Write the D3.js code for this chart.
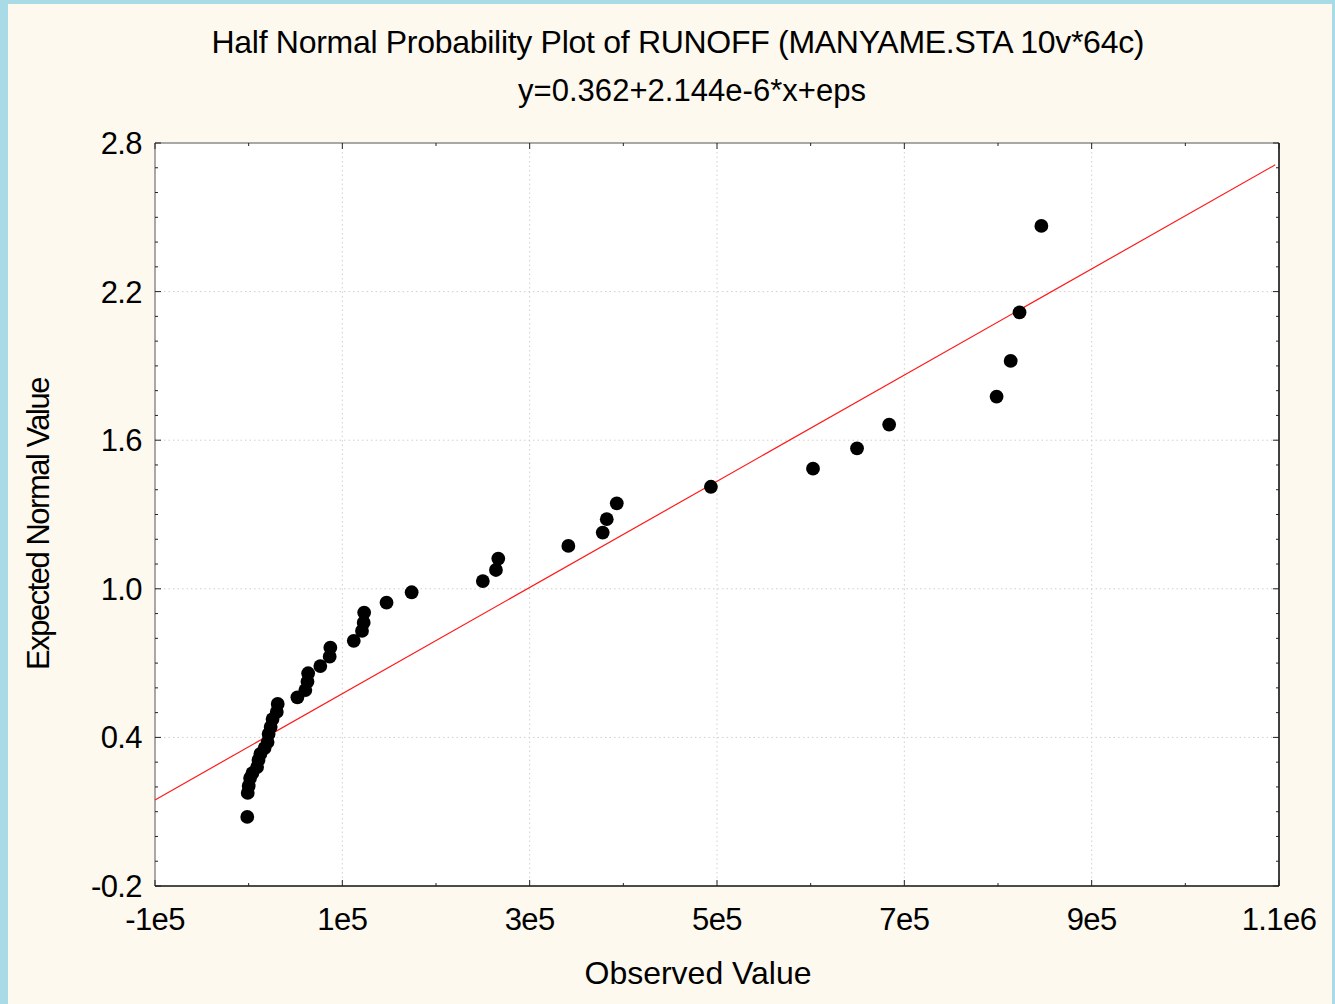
<!DOCTYPE html>
<html>
<head>
<meta charset="utf-8">
<script src="https://cdn.jsdelivr.net/npm/d3@7"></script>
<style>
  body { margin: 0; background: #a9dbe6; }
  svg { display: block; }
  text { font-family: "Liberation Sans", Arial, sans-serif; fill: #000; }
</style>
</head>
<body>
<svg id="chart" width="1335" height="1004"></svg>
<script>
// observed runoff values and their expected half-normal values
const observed = [
  -1500, -1000, 0, 1500, 4000, 9000, 10500, 12500, 17000, 20200, 21300, 23500, 25500, 30000, 31000,
  52000, 60500, 62800, 63500, 76500, 86500, 87200, 112200, 121000, 122800, 123300, 147200, 174000,
  250000, 264000, 266500, 341300, 378000, 382300, 393000, 493500,
  602500, 649500, 683800, 798500, 813500, 823000, 846300
];
const expected = [
  0.079, 0.176, 0.204, 0.236, 0.256, 0.280, 0.309, 0.333, 0.357, 0.381, 0.414, 0.442, 0.474, 0.503, 0.535,
  0.562, 0.591, 0.625, 0.659, 0.688, 0.726, 0.762, 0.790, 0.830, 0.863, 0.904, 0.944, 0.986,
  1.031, 1.076, 1.122, 1.173, 1.227, 1.281, 1.345, 1.412,
  1.485, 1.567, 1.663, 1.776, 1.920, 2.116, 2.465
];

const intercept = 0.362;
const slope = 2.144e-6;
const fitRange = [-100000, 1096000];

const xTicks = [-100000, 100000, 300000, 500000, 700000, 900000, 1100000];
const xTickLabels = ["-1e5", "1e5", "3e5", "5e5", "7e5", "9e5", "1.1e6"];
const yTicks = [-0.2, 0.4, 1.0, 1.6, 2.2, 2.8];
const yTickLabels = ["-0.2", "0.4", "1.0", "1.6", "2.2", "2.8"];

const titleLines = [
  "Half Normal Probability Plot of RUNOFF (MANYAME.STA 10v*64c)",
  "y=0.362+2.144e-6*x+eps"
];

const svg = d3.select("#chart");
const W = 1335, H = 1004;
const m = { left: 155, right: 1279, top: 143, bottom: 886 };

// panel background (blue frame shows on the left and top)
svg.append("rect").attr("x", 8).attr("y", 4).attr("width", W - 11).attr("height", H - 4)
  .attr("fill", "#fdf9ef");

const x = d3.scaleLinear().domain([-100000, 1100000]).range([m.left, m.right]);
const y = d3.scaleLinear().domain([-0.2, 2.8]).range([m.bottom, m.top]);

svg.append("rect")
  .attr("x", m.left).attr("y", m.top)
  .attr("width", m.right - m.left).attr("height", m.bottom - m.top)
  .attr("fill", "#fff");

// dotted grid at major ticks
const grid = svg.append("g").attr("stroke", "#cfcfcf").attr("stroke-dasharray", "1.5,3");
grid.selectAll("line.gx").data(xTicks.slice(1, -1)).enter().append("line")
  .attr("x1", d => x(d)).attr("x2", d => x(d)).attr("y1", m.top).attr("y2", m.bottom);
grid.selectAll("line.gy").data(yTicks.slice(1, -1)).enter().append("line")
  .attr("x1", m.left).attr("x2", m.right).attr("y1", d => y(d)).attr("y2", d => y(d));

// frame
svg.append("line").attr("x1", m.left).attr("x2", m.right).attr("y1", m.top).attr("y2", m.top)
  .attr("stroke", "#555").attr("stroke-width", 1);
svg.append("line").attr("x1", m.left).attr("x2", m.left).attr("y1", m.top).attr("y2", m.bottom)
  .attr("stroke", "#555").attr("stroke-width", 1);
svg.append("line").attr("x1", m.left).attr("x2", m.right).attr("y1", m.bottom).attr("y2", m.bottom)
  .attr("stroke", "#111").attr("stroke-width", 1.6);
svg.append("line").attr("x1", m.right).attr("x2", m.right).attr("y1", m.top).attr("y2", m.bottom)
  .attr("stroke", "#111").attr("stroke-width", 1.6);

// inward ticks: majors plus minors
const xMinor = d3.range(0, 1100000, 200000);
const yMinor = d3.range(-0.2, 2.8001, 0.1).filter(v => !yTicks.some(t => Math.abs(t - v) < 1e-6));
const tk = svg.append("g").attr("stroke", "#222").attr("stroke-width", 1);
[[xTicks, 6], [xMinor, 3]].forEach(([vals, len]) => {
  vals.forEach(v => {
    tk.append("line").attr("x1", x(v)).attr("x2", x(v)).attr("y1", m.bottom).attr("y2", m.bottom - len);
    tk.append("line").attr("x1", x(v)).attr("x2", x(v)).attr("y1", m.top).attr("y2", m.top + len);
  });
});
[[yTicks, 6], [yMinor, 3]].forEach(([vals, len]) => {
  vals.forEach(v => {
    tk.append("line").attr("x1", m.left).attr("x2", m.left + len).attr("y1", y(v)).attr("y2", y(v));
    tk.append("line").attr("x1", m.right).attr("x2", m.right - len).attr("y1", y(v)).attr("y2", y(v));
  });
});

// tick labels
svg.append("g").selectAll("text").data(xTicks).enter().append("text")
  .attr("x", d => x(d)).attr("y", 930)
  .attr("text-anchor", "middle").attr("font-size", 31).attr("letter-spacing", -0.6)
  .text((d, i) => xTickLabels[i]);
svg.append("g").selectAll("text").data(yTicks).enter().append("text")
  .attr("x", 142).attr("y", d => y(d) + 11)
  .attr("text-anchor", "end").attr("font-size", 31).attr("letter-spacing", -0.6)
  .text((d, i) => yTickLabels[i]);

// fitted line
svg.append("line")
  .attr("x1", x(fitRange[0])).attr("y1", y(intercept + slope * fitRange[0]))
  .attr("x2", x(fitRange[1])).attr("y2", y(intercept + slope * fitRange[1]))
  .attr("stroke", "#ff1a1a").attr("stroke-width", 1.2);

// points
svg.append("g").selectAll("circle").data(observed).enter().append("circle")
  .attr("cx", d => x(d)).attr("cy", (d, i) => y(expected[i]))
  .attr("r", 6.9).attr("fill", "#000");

// titles
svg.append("text").attr("x", 678).attr("y", 53).attr("text-anchor", "middle")
  .attr("font-size", 32).attr("textLength", 933).attr("lengthAdjust", "spacing")
  .text(titleLines[0]);
svg.append("text").attr("x", 692).attr("y", 101).attr("text-anchor", "middle")
  .attr("font-size", 31).attr("textLength", 348).attr("lengthAdjust", "spacing")
  .text(titleLines[1]);

svg.append("text").attr("x", 698).attr("y", 984).attr("text-anchor", "middle")
  .attr("font-size", 32).attr("textLength", 227).attr("lengthAdjust", "spacing")
  .text("Observed Value");
svg.append("text")
  .attr("transform", "translate(49,524) rotate(-90)")
  .attr("text-anchor", "middle").attr("font-size", 31).attr("letter-spacing", -1.5)
  .text("Expected Normal Value");
</script>
</body>
</html>
